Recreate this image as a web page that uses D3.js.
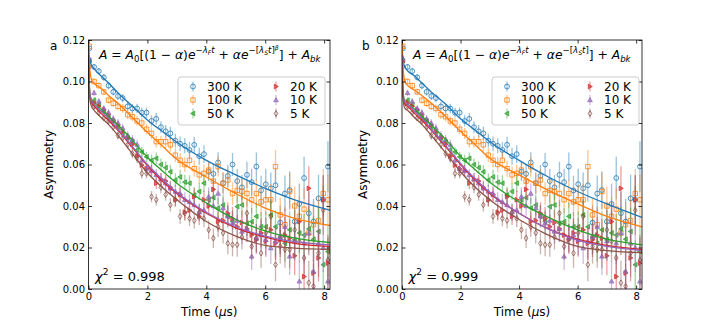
<!DOCTYPE html>
<html><head><meta charset="utf-8">
<script src="https://cdn.jsdelivr.net/npm/d3@7"></script>
<style>
body{margin:0;background:#fff}
svg{display:block;font-family:"DejaVu Sans",sans-serif}
text{white-space:pre}
</style>
</head><body>
<svg id="c" width="714" height="325"></svg>
<script>
// ---------------- data ----------------
const times = [0.03,0.19,0.35,0.52,0.68,0.84,1.00,1.16,1.33,1.49,1.65,1.81,1.97,2.14,2.30,2.46,2.62,2.78,2.95,3.11,3.27,3.43,3.59,3.76,3.92,4.08,4.24,4.40,4.57,4.73,4.89,5.05,5.21,5.38,5.54,5.70,5.86,6.02,6.19,6.35,6.51,6.67,6.83,7.00,7.16,7.32,7.48,7.64,7.81,7.97,8.13];
const seriesNames = ["300 K","100 K","50 K","20 K","10 K","5 K"];
const colors = ["#1f77b4","#ff7f0e","#2ca02c","#d62728","#9467bd","#8c564b"];
const markerTypes = ["circle","square","left","right","up","diamond"];

const asym300 = [0.116,0.107,0.105,0.102,0.098,0.095,0.093,0.092,0.088,0.087,
 0.087,0.085,0.085,0.081,0.082,0.078,0.076,0.075,0.0715,0.070,
 0.069,0.067,0.0695,0.064,0.065,0.0565,0.0555,0.061,0.051,0.0545,
 0.060,0.052,0.049,0.055,0.0515,0.059,0.0475,0.0505,0.0485,0.050,
 0.032,0.046,0.0477,0.0325,0.041,0.0535,0.0365,0.0325,0.0437,0.043,
 0.059];
const asym100 = [0.117,0.100,0.098,0.095,0.091,0.0895,0.088,0.087,0.084,0.083,
 0.081,0.080,0.077,0.075,0.071,0.071,0.071,0.0695,0.0645,0.062,
 0.060,0.062,0.058,0.055,0.0557,0.0573,0.052,0.059,0.051,0.0525,
 0.046,0.0475,0.047,0.046,0.043,0.046,0.042,0.043,0.043,0.059,
 0.0357,0.031,0.047,0.040,0.035,0.0385,0.027,0.031,0.033,0.046,
 0.043];
const asym50 = [0.110,0.091,0.089,0.0856,0.0824,0.081,0.078,0.075,0.0728,0.071,
 0.067,0.066,0.0637,0.062,0.063,0.060,0.0585,0.0565,0.0525,0.054,
 0.0515,0.051,0.0453,0.047,0.051,0.0429,0.044,0.039,0.0405,0.035,
 0.0325,0.0397,0.0405,0.0317,0.0325,0.035,0.030,0.030,0.0357,0.030,
 0.0253,0.022,0.0285,0.0237,0.027,0.026,0.029,0.024,0.0277,0.0117,
 0.018];
const asym20 = [0.1095,0.0896,0.088,0.0864,0.084,0.081,0.079,0.076,0.0728,0.0696,
 0.064,0.0597,0.058,0.057,0.051,0.053,0.052,0.049,0.043,0.0455,
 0.037,0.038,0.0445,0.035,0.043,0.040,0.048,0.0325,0.033,0.0365,
 0.034,0.030,0.032,0.029,0.026,0.0237,0.027,0.023,0.0285,0.022,
 0.0237,0.026,0.0245,0.016,0.0325,0.006,0.0485,0.0077,0.015,0.043,
 0.0125];
const asym10 = [0.111,0.0945,0.0904,0.087,0.085,0.082,0.080,0.0776,0.074,0.072,
 0.0696,0.062,0.058,0.057,0.055,0.053,0.051,0.0485,0.047,0.046,
 0.043,0.042,0.0405,0.037,0.038,0.0445,0.040,0.046,0.039,0.035,
 0.0317,0.033,0.0277,0.029,0.0157,0.0245,0.026,0.0237,0.0197,0.023,
 0.0253,0.030,0.0157,0.023,0.0037,0.0221,0.0269,0.0085,0.022,0.020,
 0.0037];
const asym5 = [0.107,0.088,0.085,0.0824,0.081,0.078,0.074,0.0728,0.0696,0.0653,
 0.063,0.0557,0.0557,0.0445,0.043,0.049,0.0455,0.0405,0.043,0.035,
 0.0365,0.034,0.033,0.037,0.034,0.0285,0.0245,0.030,0.027,0.022,
 0.0213,0.0213,0.025,0.0365,0.0205,0.0245,0.0173,0.027,0.035,0.0117,
 0.0205,0.019,0.019,0.0285,0.023,0.015,0.003,0.0013,0.0173,0.038,
 0.014];
const errors = [0.0012,0.0014,0.0015,0.0016,0.0017,0.0018,0.0019,0.002,0.0021,0.0022,
 0.0023,0.0024,0.0025,0.0027,0.0028,0.0029,0.003,0.0032,0.0033,0.0035,
 0.0036,0.0038,0.0039,0.0041,0.0043,0.0045,0.0047,0.0049,0.0051,0.0053,
 0.0055,0.0058,0.006,0.0063,0.0065,0.0068,0.0071,0.0074,0.0077,0.008,
 0.0083,0.0087,0.009,0.0094,0.0098,0.0102,0.0106,0.011,0.0114,0.0118,
 0.0122];

const fitTimes = [0,0.02,0.05,0.1,0.2,0.4,0.7,1,1.5,2,2.5,3,4,5,6,7,8.2];
const fitA300 = [0.117,0.113,0.110,0.108,0.106,0.103,0.099,0.0945,0.088,0.0815,0.076,0.0707,0.062,0.055,0.0485,0.043,0.038];
const fitA100 = [0.119,0.112,0.105,0.101,0.099,0.097,0.093,0.0895,0.0825,0.0755,0.069,0.0625,0.054,0.046,0.039,0.034,0.0306];
const fitA50  = [0.112,0.102,0.094,0.091,0.089,0.087,0.083,0.079,0.0715,0.0635,0.057,0.051,0.0415,0.0335,0.028,0.0245,0.0224];
const fitA20  = [0.111,0.100,0.093,0.090,0.088,0.085,0.081,0.0765,0.068,0.0595,0.052,0.046,0.0365,0.0295,0.025,0.022,0.0205];
const fitA10  = [0.113,0.101,0.094,0.091,0.089,0.086,0.082,0.077,0.0685,0.060,0.053,0.0465,0.037,0.030,0.0255,0.0228,0.0213];
const fitA5   = [0.108,0.097,0.091,0.088,0.086,0.083,0.079,0.074,0.065,0.056,0.049,0.043,0.0325,0.0255,0.021,0.0197,0.019];
const fitB300 = [0.117,0.113,0.109,0.107,0.105,0.103,0.099,0.095,0.089,0.082,0.0765,0.071,0.062,0.054,0.047,0.041,0.0345];
const fitB100 = [0.119,0.111,0.104,0.100,0.098,0.096,0.093,0.0895,0.083,0.076,0.0695,0.063,0.055,0.0475,0.041,0.035,0.030];
const fitB50  = [0.112,0.101,0.093,0.090,0.089,0.087,0.083,0.079,0.072,0.064,0.0575,0.0515,0.042,0.0345,0.0285,0.024,0.0213];
const fitB20  = [0.111,0.099,0.092,0.089,0.088,0.085,0.081,0.0765,0.0685,0.060,0.0525,0.046,0.0365,0.029,0.024,0.021,0.019];
const fitB10  = [0.113,0.100,0.093,0.090,0.089,0.086,0.082,0.077,0.069,0.0605,0.053,0.0465,0.0365,0.029,0.0235,0.0205,0.0185];
const fitB5   = [0.108,0.096,0.090,0.087,0.086,0.083,0.079,0.074,0.0655,0.0565,0.049,0.043,0.0335,0.026,0.0205,0.0185,0.0175];

const xTicks = [0,2,4,6,8];
const yTicks = [0.00,0.02,0.04,0.06,0.08,0.10,0.12];
const xDomain = [0, 8.2];
const yDomain = [0, 0.12];
const chi2 = ["0.998","0.999"];
const panelLetters = ["a","b"];

// ---------------- drawing ----------------
const svg = d3.select("#c");
const data = [asym300, asym100, asym50, asym20, asym10, asym5];
const fitsA = [fitA300, fitA100, fitA50, fitA20, fitA10, fitA5];
const fitsB = [fitB300, fitB100, fitB50, fitB20, fitB10, fitB5];

function markerPath(type, r){
  const p = d3.path();
  if(type==="circle"){ p.arc(0,0,r,0,2*Math.PI); }
  else if(type==="square"){ p.rect(-r,-r,2*r,2*r); }
  else if(type==="left"){ p.moveTo(-r*1.1,0); p.lineTo(r*0.8,-r*1.1); p.lineTo(r*0.8,r*1.1); p.closePath(); }
  else if(type==="right"){ p.moveTo(r*1.1,0); p.lineTo(-r*0.8,-r*1.1); p.lineTo(-r*0.8,r*1.1); p.closePath(); }
  else if(type==="up"){ p.moveTo(0,-r*1.1); p.lineTo(-r*1.1,r*0.8); p.lineTo(r*1.1,r*0.8); p.closePath(); }
  else if(type==="diamond"){ p.moveTo(0,-r*1.2); p.lineTo(r*0.75,0); p.lineTo(0,r*1.2); p.lineTo(-r*0.75,0); p.closePath(); }
  return p.toString();
}
const filledMarker = {circle:false,square:false,left:true,right:true,up:true,diamond:false};

function drawMarker(g, type, color, cx, cy){
  const r = type==="square" ? 2.2 : (filledMarker[type] ? 2.1 : 2.4);
  g.append("path").attr("d", markerPath(type, r))
    .attr("transform", `translate(${cx},${cy})`)
    .attr("fill", filledMarker[type] ? color : "none")
    .attr("fill-opacity", filledMarker[type] ? 0.6 : 1)
    .attr("stroke", color).attr("stroke-width", 0.8);
}

function mathText(g, x, y, segs, fs, anchor){
  const t = g.append("text").attr("x",x).attr("y",y).attr("font-size",fs)
    .attr("text-anchor", anchor||"start").attr("fill","#000");
  let cur = 0;
  segs.forEach(s=>{
    const off = (s.o||0)*fs;
    t.append("tspan").text(s.t)
      .attr("font-style", s.i ? "italic" : "normal")
      .attr("font-size", (s.s||1)*fs)
      .attr("dy", -(off-cur));
    cur = off;
  });
  return t;
}

const formulaA = [
 {t:"A",i:1},{t:" = "},{t:"A",i:1},{t:"0",s:0.7,o:-0.22},{t:"[(1 − "},{t:"α",i:1},{t:")"},{t:"e",i:1},
 {t:"−",s:0.7,o:0.45},{t:"λ",i:1,s:0.7,o:0.45},{t:"F",i:1,s:0.5,o:0.33},{t:"t",i:1,s:0.7,o:0.45},
 {t:" + "},{t:"αe",i:1},
 {t:"−[",s:0.7,o:0.45},{t:"λ",i:1,s:0.7,o:0.45},{t:"S",i:1,s:0.5,o:0.33},{t:"t",i:1,s:0.7,o:0.45},{t:"]",s:0.7,o:0.45},{t:"β",i:1,s:0.5,o:0.75},
 {t:"] + "},{t:"A",i:1},{t:"bk",i:1,s:0.7,o:-0.22}
];
const formulaB = [
 {t:"A",i:1},{t:" = "},{t:"A",i:1},{t:"0",s:0.7,o:-0.22},{t:"[(1 − "},{t:"α",i:1},{t:")"},{t:"e",i:1},
 {t:"−",s:0.7,o:0.45},{t:"λ",i:1,s:0.7,o:0.45},{t:"F",i:1,s:0.5,o:0.33},{t:"t",i:1,s:0.7,o:0.45},
 {t:" + "},{t:"αe",i:1},
 {t:"−[",s:0.7,o:0.45},{t:"λ",i:1,s:0.7,o:0.45},{t:"S",i:1,s:0.5,o:0.33},{t:"t",i:1,s:0.7,o:0.45},{t:"]",s:0.7,o:0.45},
 {t:"] + "},{t:"A",i:1},{t:"bk",i:1,s:0.7,o:-0.22}
];

const panels = [
  {left:88.5, right:330, top:40, bottom:289, fits:fitsA, formula:formulaA, fx:99, letterX:50, ylabX:53, legX:178},
  {left:402, right:642, top:40, bottom:289, fits:fitsB, formula:formulaB, fx:413, letterX:362, ylabX:367, legX:492}
];

panels.forEach((P, pi)=>{
  const x = d3.scaleLinear().domain(xDomain).range([P.left, P.right]);
  const y = d3.scaleLinear().domain(yDomain).range([P.bottom, P.top]);
  const g = svg.append("g");
  const clipId = "clip"+pi;
  svg.append("clipPath").attr("id",clipId).append("rect")
    .attr("x",P.left).attr("y",P.top).attr("width",P.right-P.left).attr("height",P.bottom-P.top);
  const plot = g.append("g").attr("clip-path",`url(#${clipId})`);

  data.forEach((vals, si)=>{
    const sg = plot.append("g");
    vals.forEach((v, i)=>{
      const t = times[i], e = errors[i];
      sg.append("line").attr("x1",x(t)).attr("x2",x(t)).attr("y1",y(v-e)).attr("y2",y(v+e))
        .attr("stroke",colors[si]).attr("stroke-opacity",0.45).attr("stroke-width",1.3);
    });
    vals.forEach((v, i)=>{
      drawMarker(sg, markerTypes[si], colors[si], x(times[i]), y(v));
    });
  });
  const line = d3.line().x((d,i)=>x(fitTimes[i])).y(d=>y(d)).curve(d3.curveMonotoneX);
  P.fits.forEach((f, si)=>{
    plot.append("path").attr("d", line(f)).attr("fill","none")
      .attr("stroke", colors[si]).attr("stroke-width",1.3);
  });

  const tickLen = 3.5;
  const ax = g.append("g").attr("transform",`translate(0,${P.bottom})`)
    .call(d3.axisBottom(x).tickValues(xTicks).tickSize(-tickLen).tickPadding(4).tickFormat(d3.format("d")));
  const axT = g.append("g").attr("transform",`translate(0,${P.top})`)
    .call(d3.axisTop(x).tickValues(xTicks).tickSize(-tickLen).tickFormat(""));
  const ay = g.append("g").attr("transform",`translate(${P.left},0)`)
    .call(d3.axisLeft(y).tickValues(yTicks).tickSize(-tickLen).tickPadding(3.5).tickFormat(d3.format(".2f")));
  const ayR = g.append("g").attr("transform",`translate(${P.right},0)`)
    .call(d3.axisRight(y).tickValues(yTicks).tickSize(-tickLen).tickFormat(""));
  [ax,axT,ay,ayR].forEach(a=>{
    a.select(".domain").remove();
    a.selectAll(".tick line").attr("stroke","#000").attr("stroke-width",0.8);
    a.selectAll("text").attr("font-size",10).attr("font-family","DejaVu Sans").attr("fill","#000");
  });
  g.append("rect").attr("x",P.left).attr("y",P.top).attr("width",P.right-P.left).attr("height",P.bottom-P.top)
    .attr("fill","none").attr("stroke","#000").attr("stroke-width",0.8);

  g.append("text").attr("transform",`translate(${P.ylabX},${(P.top+P.bottom)/2}) rotate(-90)`)
    .attr("text-anchor","middle").attr("font-size",12).text("Asymmetry");
  mathText(g, (P.left+P.right)/2, 316, [{t:"Time ("},{t:"μ",i:1},{t:"s)"}], 12, "middle");
  g.append("text").attr("x",P.letterX).attr("y",50).attr("font-size",12).text(panelLetters[pi]);
  mathText(g, P.fx, 59, P.formula, 12.3);
  mathText(g, P.left+6.5, 281, [{t:"χ",i:1},{t:"2",s:0.7,o:0.45},{t:" = "+chi2[pi]}], 13);

  const lg = g.append("g").attr("transform",`translate(${P.legX},77)`);
  lg.append("rect").attr("width",147).attr("height",48).attr("rx",3)
    .attr("fill","#fff").attr("fill-opacity",0.8).attr("stroke","#cccccc").attr("stroke-width",1);
  seriesNames.forEach((name, si)=>{
    const col = Math.floor(si/3), row = si%3;
    const mx = col===0 ? 15 : 98, tx = col===0 ? 29 : 112;
    const my = 9.5 + row*13.5;
    lg.append("line").attr("x1",mx).attr("x2",mx).attr("y1",my-5).attr("y2",my+5)
      .attr("stroke",colors[si]).attr("stroke-opacity",0.45).attr("stroke-width",1.3);
    drawMarker(lg, markerTypes[si], colors[si], mx, my);
    lg.append("text").attr("x",tx).attr("y",my).attr("dy","0.36em").attr("font-size",12).text(name);
  });
});
</script>
</body></html>
